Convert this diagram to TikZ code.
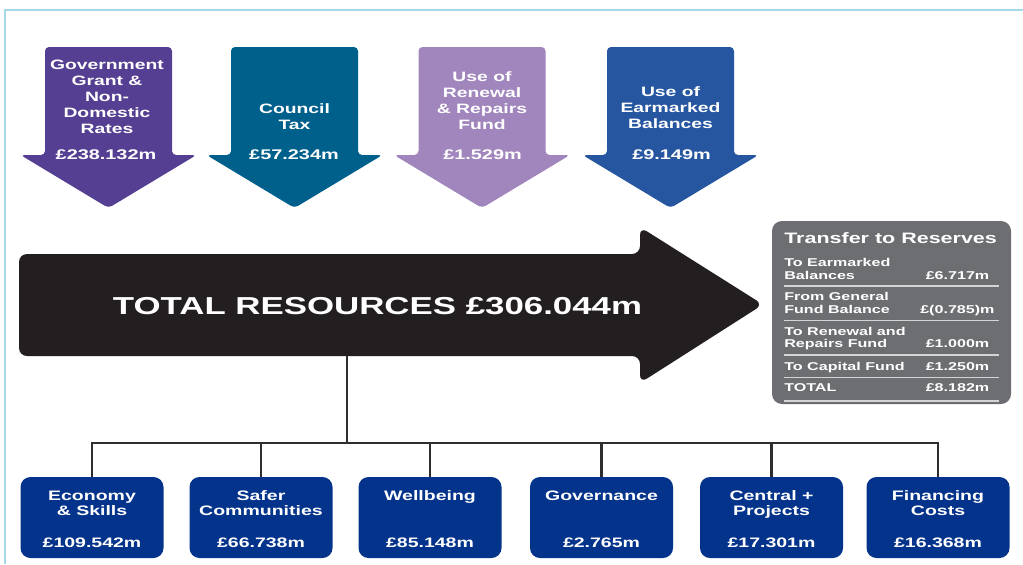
\documentclass[tikz,border=0pt]{standalone}
\usepackage{fontspec}
\setmainfont{Liberation Sans}[FakeStretch=1.42]
\definecolor{framecol}{HTML}{A6D9E8}
\definecolor{govcol}{HTML}{553F92}
\definecolor{taxcol}{HTML}{00608C}
\definecolor{renewcol}{HTML}{A086BD}
\definecolor{earcol}{HTML}{2656A0}
\definecolor{totalcol}{HTML}{231F20}
\definecolor{rescol}{HTML}{6D6E71}
\definecolor{boxblue}{HTML}{04338B}
\definecolor{linecol}{HTML}{2E2E2E}
\definecolor{rulecol}{HTML}{D4D4D6}

% downward funding arrow centred on x = #1, filled with colour #2
\newcommand\drawsource[2]{%
  \fill[#2, rounded corners=3pt]
    (#1-63.5,155) -- (#1-63.5,47) -- (#1+63.5,47) -- (#1+63.5,155)
    -- (#1+88,155) -- (#1,208) -- (#1-88,155) -- cycle;}

\begin{document}
\begin{tikzpicture}[x=0.75pt, y=-0.75pt,
  srclabel/.style={text=white, font=\bfseries\fontsize{10.2}{12}\selectfont,
    align=center, inner sep=0pt, anchor=base},
  amount/.style={text=white, font=\bfseries\fontsize{10.5}{12}\selectfont,
    inner sep=0pt, anchor=base},
  costbox/.style={fill=boxblue, rounded corners=7.5pt, minimum width=107.25pt,
    minimum height=60.75pt, inner sep=0pt},
  costlabel/.style={text=white, font=\bfseries\fontsize{10.3}{11.25}\selectfont,
    align=center, inner sep=0pt, anchor=base},
  reslabel/.style={text=white, font=\bfseries\fontsize{8.5}{9.2}\selectfont,
    align=left, inner sep=0pt, anchor=base west},
  resrule/.style={draw=rulecol, line width=0.8pt},
  conn/.style={draw=linecol, line width=2.2pt}]

\useasboundingbox (0,0) rectangle (1023,564);

% page frame
\draw[framecol, line width=1.6pt] (5,564) -- (5,10) -- (1023,10);

% funding sources (labels anchored on the baseline of their last line)
\drawsource{108.5}{govcol}
\drawsource{294.5}{taxcol}
\drawsource{482}{renewcol}
\drawsource{670.5}{earcol}

\node[srclabel] (govtxt) at (107,133) {Government\\Grant \&\\Non-\\Domestic\\Rates};
\node[amount] (govamt) at (106,159) {£238.132m};
\node[srclabel] (taxtxt) at (294.5,129.3) {Council\\Tax};
\node[amount] (taxamt) at (294,159) {£57.234m};
\node[srclabel] (rentxt) at (482,129) {Use of\\Renewal\\\& Repairs\\Fund};
\node[amount] (renamt) at (482.5,159) {£1.529m};
\node[srclabel] (eartxt) at (670.5,128) {Use of\\Earmarked\\Balances};
\node[amount] (earamt) at (671.5,159) {£9.149m};

% total resources arrow
\fill[totalcol, rounded corners=6pt]
  (19,254) -- (640,254) -- (640,227) -- (763,304.5) -- (640,383)
  -- (640,356) -- (19,356) -- cycle;
\node[text=white, font=\bfseries\fontsize{18.4}{20}\selectfont, inner sep=0pt,
  anchor=base] (total) at (377.5,314) {TOTAL RESOURCES £306.044m};
\coordinate (trunk) at (347,356);

% transfer to reserves panel
\node[fill=rescol, rounded corners=7.5pt, minimum width=179.25pt,
  minimum height=137.25pt, inner sep=0pt] (reserves) at (891.5,312.5) {};
\node[text=white, font=\bfseries\fontsize{11.35}{12}\selectfont, inner sep=0pt,
  anchor=base west] (restitle) at (784,243) {Transfer to Reserves};

\node[reslabel] (r1) at (784,279) {To Earmarked\\Balances};
\node[reslabel] (r1v) at (925.5,279) {£6.717m};
\draw[resrule] (784,286) -- (999,286);
\node[reslabel] (r2) at (784,313) {From General\\Fund Balance};
\node[reslabel] (r2v) at (920,313) {£(0.785)m};
\draw[resrule] (784,320.5) -- (999,320.5);
\node[reslabel] (r3) at (784,347.5) {To Renewal and\\Repairs Fund};
\node[reslabel] (r3v) at (925.5,347.5) {£1.000m};
\draw[resrule] (784,355) -- (999,355);
\node[reslabel] (r4) at (784,370) {To Capital Fund};
\node[reslabel] (r4v) at (925.5,370) {£1.250m};
\draw[resrule] (784,377.5) -- (999,377.5);
\node[reslabel] (r5) at (784,391.7) {TOTAL};
\node[reslabel] (r5v) at (925.5,391.7) {£8.182m};
\draw[resrule] (784,401) -- (999,401);

% spending areas
\node[costbox] (econ) at (92,517.5) {};
\node[costbox] (safer) at (261,517.5) {};
\node[costbox] (well) at (430,517.5) {};
\node[costbox] (gov) at (601.5,517.5) {};
\node[costbox] (central) at (771.5,517.5) {};
\node[costbox] (fin) at (938,517.5) {};

\node[costlabel] (econtxt) at (92,515) {Economy\\\& Skills};
\node[costlabel] (safertxt) at (261,515) {Safer\\Communities};
\node[costlabel] (welltxt) at (430,500) {Wellbeing};
\node[costlabel] (govtxt2) at (601.5,500) {Governance};
\node[costlabel] (centraltxt) at (771.5,515) {Central +\\Projects};
\node[costlabel] (fintxt) at (938,515) {Financing\\Costs};

\node[costlabel] (econamt) at (92,547) {£109.542m};
\node[costlabel] (saferamt) at (261,547) {£66.738m};
\node[costlabel] (wellamt) at (430,547) {£85.148m};
\node[costlabel] (govamt2) at (601.5,547) {£2.765m};
\node[costlabel] (centralamt) at (771.5,547) {£17.301m};
\node[costlabel] (finamt) at (938,547) {£16.368m};

% distribution lines
\coordinate (bus) at (347,443);
\draw[conn] (trunk) -- (bus);
\draw[conn, line cap=rect] (econ.north |- bus) -- (fin.north |- bus);
\foreach \b in {econ,safer,well,gov,central,fin}
  \draw[conn] (\b.north |- bus) -- (\b.north);

\end{tikzpicture}
\end{document}
